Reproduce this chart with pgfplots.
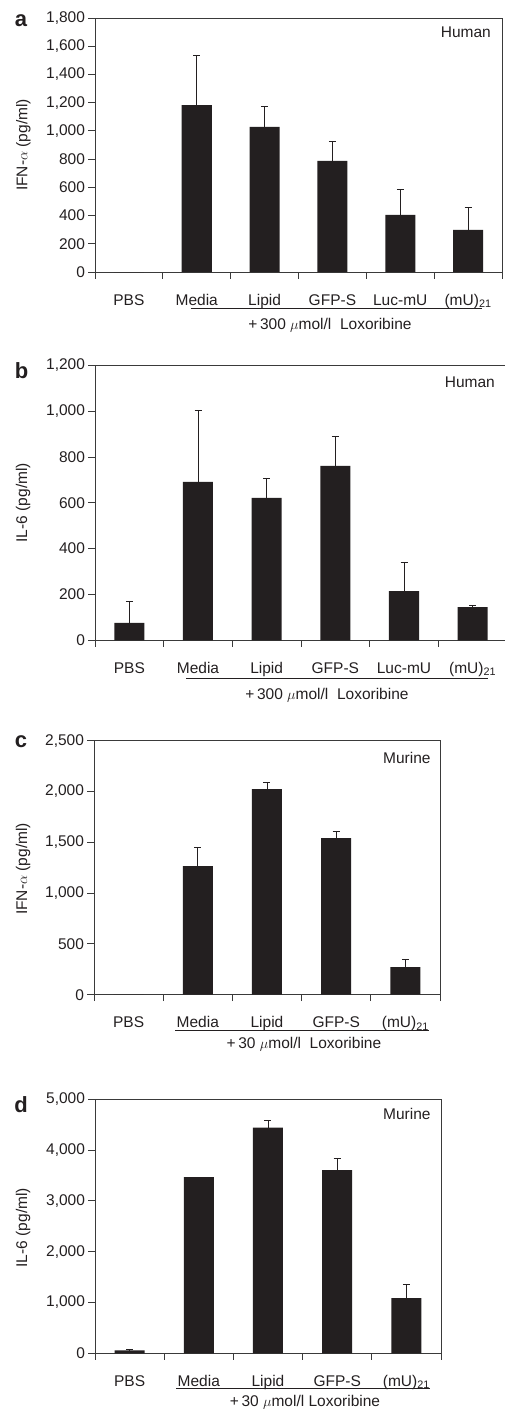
\documentclass[border=0pt]{standalone}
\usepackage{fontspec}
\setmainfont{Liberation Sans}
\usepackage{pgfplots}
\pgfplotsset{compat=1.18}
\definecolor{ink}{HTML}{231F20}
\definecolor{axc}{HTML}{3A3A3A}
\newcommand\f{\fontsize{15.5}{18}\selectfont}
\pgfplotsset{
 panel/.style={
  scale only axis, clip=false,
  axis line style={axc, line width=0.9pt},
  tick style={axc, line width=0.9pt},
  tick align=outside,
  xtick pos=bottom, ytick pos=left,
  major x tick style={draw=none},
  major tick length=6.5pt, minor tick length=6.5pt,
  ymin=0, enlarge y limits=false, enlarge x limits=false,
  scaled y ticks=false,
  /pgf/number format/assume math mode=true,
  /pgf/number format/1000 sep={,},
  ticklabel style={font=\f, text=ink},
  xticklabel style={anchor=base, yshift=-26.5pt},
  xtick={0,...,5},
 },
 bars/.style={ybar, bar width=30pt, fill=ink, draw=none, bar shift=0pt},
 errs/.style={sharp plot, draw=none, mark=none, forget plot,
  error bars/.cd, y dir=plus, y explicit,
  error bar style={draw=ink, line width=0.9pt},
  error mark options={rotate=90, mark size=3.5pt, draw=ink, line width=0.9pt}},
}
\begin{document}
\begin{tikzpicture}
\path[use as bounding box] (0pt,0pt) rectangle (505pt,-1409pt);
% ---------- a ----------
\begin{axis}[panel, at={(95pt,-272pt)}, anchor=south west, width=407pt, height=254pt,
  xmin=-0.5, xmax=5.5, ymax=1800, ytick={0,200,...,1800},
  minor xtick={-0.5,0.5,...,5.5},
  xticklabels={PBS,Media,Lipid,GFP-S,Luc-mU,{(mU)\textsubscript{21}}}]
\addplot[bars] coordinates {(0,0) (1,1183) (2,1028) (3,787) (4,404) (5,298)};
\addplot[errs] coordinates {(1,1183) +- (0,355) (2,1028) +- (0,148) (3,787) +- (0,139) (4,404) +- (0,182) (5,298) +- (0,163)};
\end{axis}
% ---------- b ----------
\begin{axis}[panel, at={(95pt,-640.3pt)}, anchor=south west, width=412pt, height=275pt,
  xmin=-0.5, xmax=5.5, ymax=1200, ytick={0,200,...,1200},
  minor xtick={-0.5,0.5,...,5.5},
  xticklabels={PBS,Media,Lipid,GFP-S,Luc-mU,{(mU)\textsubscript{21}}}]
\addplot[bars] coordinates {(0,76) (1,691) (2,621) (3,761) (4,215) (5,145)};
\addplot[errs] coordinates {(0,76) +- (0,94) (1,691) +- (0,311) (2,621) +- (0,86) (3,761) +- (0,129) (4,215) +- (0,125) (5,145) +- (0,9)};
\end{axis}
% ---------- c ----------
\begin{axis}[panel, at={(94pt,-994.7pt)}, anchor=south west, width=346pt, height=254pt,
  xmin=-0.5, xmax=4.5, ymax=2500, ytick={0,500,...,2500},
  minor xtick={-0.5,0.5,...,4.5}, xtick={0,...,4},
  xticklabels={PBS,Media,Lipid,GFP-S,{(mU)\textsubscript{21}}}]
\addplot[bars] coordinates {(0,0) (1,1266) (2,2024) (3,1542) (4,272)};
\addplot[errs] coordinates {(1,1266) +- (0,187) (2,2024) +- (0,66) (3,1542) +- (0,69) (4,272) +- (0,72)};
\end{axis}
% ---------- d ----------
\begin{axis}[panel, at={(95pt,-1353.3pt)}, anchor=south west, width=346pt, height=254pt,
  xmin=-0.5, xmax=4.5, ymax=5000, ytick={0,1000,...,5000},
  minor xtick={-0.5,0.5,...,4.5}, xtick={0,...,4},
  xticklabels={PBS,Media,Lipid,GFP-S,{(mU)\textsubscript{21}}}]
\addplot[bars] coordinates {(0,59) (1,3467) (2,4443) (3,3604) (4,1088)};
\addplot[errs] coordinates {(0,59) +- (0,12) (2,4443) +- (0,138) (3,3604) +- (0,223) (4,1088) +- (0,268)};
\end{axis}
% ---------- annotations ----------
\begin{scope}[every node/.style={text=ink, inner sep=0pt, font=\f}]
\node[font=\bfseries\fontsize{22}{22}\selectfont] at (21pt,-20.5pt) {a};
\node[font=\bfseries\fontsize{22}{22}\selectfont] at (21.5pt,-370.7pt) {b};
\node[font=\bfseries\fontsize{22}{22}\selectfont] at (21pt,-742pt) {c};
\node[font=\bfseries\fontsize{22}{22}\selectfont] at (21pt,-1105pt) {d};
\node[anchor=east] at (491pt,-32.7pt) {Human};
\node[anchor=east] at (495pt,-382.7pt) {Human};
\node[anchor=east] at (430.7pt,-758.3pt) {Murine};
\node[anchor=east] at (430.7pt,-1114pt) {Murine};
\node[rotate=90] at (23.3pt,-145pt) {IFN-$\alpha$ (pg/ml)};
\node[rotate=90] at (23pt,-502.7pt) {IL-6 (pg/ml)};
\node[rotate=90] at (23pt,-869pt) {IFN-$\alpha$ (pg/ml)};
\node[rotate=90] at (23pt,-1227.7pt) {IL-6 (pg/ml)};
\draw[ink, line width=0.9pt] (190.7pt,-308.3pt) -- (482.3pt,-308.3pt);
\node[anchor=base] at (330pt,-329.3pt) {+\,300 $\mu$mol/l\ \ Loxoribine};
\draw[ink, line width=0.9pt] (186pt,-678.3pt) -- (488pt,-678.3pt);
\node[anchor=base] at (327pt,-699.3pt) {+\,300 $\mu$mol/l\ \ Loxoribine};
\draw[ink, line width=0.9pt] (175pt,-1030.3pt) -- (429pt,-1030.3pt);
\node[anchor=base] at (304pt,-1048.3pt) {+\,30 $\mu$mol/l\ \ Loxoribine};
\draw[ink, line width=0.9pt] (176pt,-1388.7pt) -- (430pt,-1388.7pt);
\node[anchor=base] at (305pt,-1406.5pt) {+\,30 $\mu$mol/l Loxoribine};
\end{scope}
\end{tikzpicture}
\end{document}
